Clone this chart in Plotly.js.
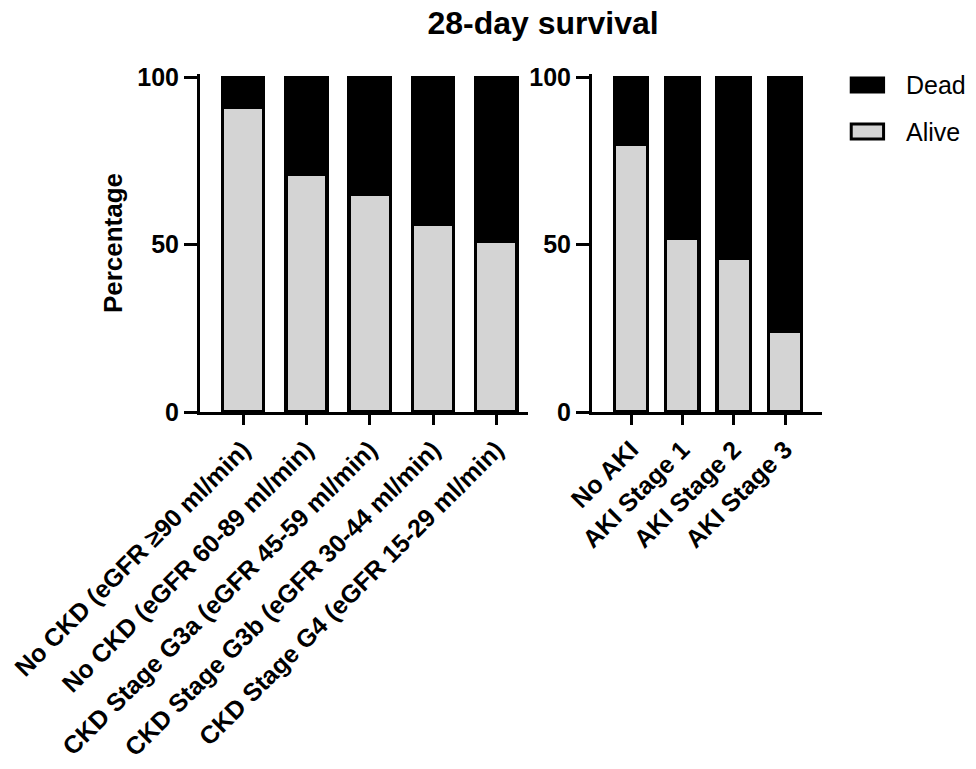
<!DOCTYPE html>
<html>
<head>
<meta charset="utf-8">
<script src="https://cdn.plot.ly/plotly-3.0.1.min.js"></script>
<style>
  html, body { margin: 0; padding: 0; background: #fff; }
  #chart { width: 976px; height: 769px; }
</style>
</head>
<body>
<div id="chart"></div>
<script>
// 28-day survival, percentages
let ckdGroups = [
    "No CKD (eGFR \u226590 ml/min)",
    "No CKD (eGFR 60-89 ml/min)",
    "CKD Stage G3a (eGFR 45-59 ml/min)",
    "CKD Stage G3b (eGFR 30-44 ml/min)",
    "CKD Stage G4 (eGFR 15-29 ml/min)"
];
let ckdAlive = [91, 71, 65, 56, 51];
let ckdDead = [9, 29, 35, 44, 49];

let akiGroups = ["No AKI", "AKI Stage 1", "AKI Stage 2", "AKI Stage 3"];
let akiAlive = [80, 52, 46, 24];
let akiDead = [20, 48, 54, 76];

let yTicks = [0, 50, 100];

let aliveColor = "#d4d4d4";
let deadColor = "#000000";
let font = "Liberation Sans, Arial, sans-serif";

function barTrace(name, x, y, color, xa, ya) {
    return {
        type: "bar",
        name: name,
        x: x,
        y: y,
        xaxis: xa,
        yaxis: ya,
        marker: { color: color, line: { color: "#000", width: 3.5 } },
        showlegend: false,
        hoverinfo: "x+y+name"
    };
}

let data = [
    barTrace("Alive", ckdGroups, ckdAlive, aliveColor, "x", "y"),
    barTrace("Dead", ckdGroups, ckdDead, deadColor, "x", "y"),
    barTrace("Alive", akiGroups, akiAlive, aliveColor, "x2", "y2"),
    barTrace("Dead", akiGroups, akiDead, deadColor, "x2", "y2")
];

let yaxisBase = {
    range: [0, 101],
    tickvals: yTicks,
    ticktext: yTicks.map(String),
    showline: true,
    linecolor: "#000",
    linewidth: 3,
    ticks: "outside",
    ticklen: 13,
    tickwidth: 3,
    tickcolor: "#000",
    showgrid: false,
    zeroline: false,
    tickfont: { family: font, size: 25, color: "#000", weight: "bold" },
    fixedrange: true
};

let xaxisBase = {
    type: "category",
    showline: true,
    linecolor: "#000",
    linewidth: 3,
    ticks: "outside",
    ticklen: 10,
    tickwidth: 3,
    tickcolor: "#000",
    showgrid: false,
    zeroline: false,
    tickangle: -45,
    tickfont: { family: font, size: 25, color: "#000", weight: "bold" },
    fixedrange: true
};

let layout = {
    width: 976,
    height: 769,
    margin: { l: 200, r: 154, t: 74, b: 357 },
    paper_bgcolor: "#fff",
    plot_bgcolor: "#fff",
    barmode: "stack",
    bargap: 0.35,
    showlegend: false,
    title: {
        text: "28-day survival",
        font: { family: font, size: 32, color: "#000", weight: "bold" },
        x: 543 / 976,
        xanchor: "center",
        yref: "container",
        y: 1 - 23 / 769,
        yanchor: "middle"
    },
    xaxis: Object.assign({}, xaxisBase, { domain: [0, 0.5273], range: [-0.68, 4.5], anchor: "y" }),
    xaxis2: Object.assign({}, xaxisBase, { domain: [0.6302, 1], range: [-0.76, 3.72], anchor: "y2" }),
    yaxis: Object.assign({}, yaxisBase, {
        anchor: "x",
        title: {
            text: "Percentage",
            font: { family: font, size: 26, color: "#000", weight: "bold" },
            standoff: 8
        }
    }),
    yaxis2: Object.assign({}, yaxisBase, { anchor: "x2" }),
    // legend drawn by hand so the swatches can be the wide GraphPad boxes
    shapes: [
        { type: "rect", xref: "paper", yref: "paper", x0: 1.047, x1: 1.099, y0: 0.947, y1: 0.988,
          fillcolor: deadColor, line: { color: "#000", width: 3 } },
        { type: "rect", xref: "paper", yref: "paper", x0: 1.047, x1: 1.099, y0: 0.808, y1: 0.852,
          fillcolor: aliveColor, line: { color: "#000", width: 3 } }
    ],
    annotations: [
        { xref: "paper", yref: "paper", x: 1.132, y: 0.967, xanchor: "left", yanchor: "middle",
          text: "Dead", showarrow: false, font: { family: font, size: 25, color: "#000" } },
        { xref: "paper", yref: "paper", x: 1.132, y: 0.829, xanchor: "left", yanchor: "middle",
          text: "Alive", showarrow: false, font: { family: font, size: 25, color: "#000" } }
    ]
};

Plotly.newPlot("chart", data, layout, { displayModeBar: false, staticPlot: true });
</script>
</body>
</html>
